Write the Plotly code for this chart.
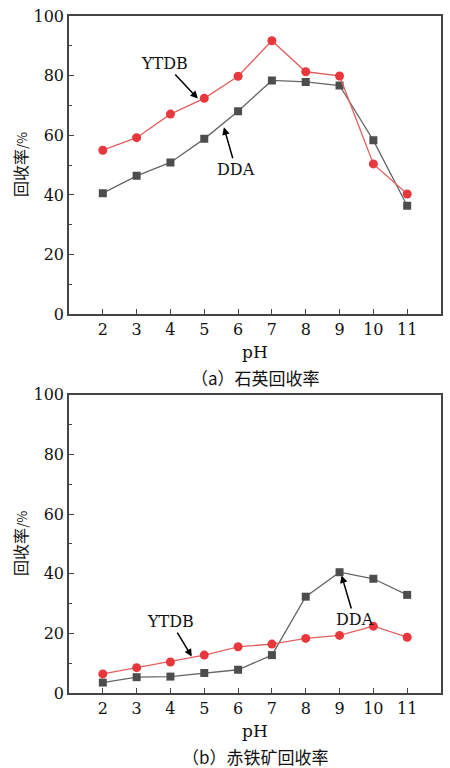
import plotly.graph_objects as go
from plotly.subplots import make_subplots

ph = [2, 3, 4, 5, 6, 7, 8, 9, 10, 11]
quartz_ytdb = [55.0, 59.2, 67.1, 72.4, 79.8, 91.7, 81.3, 79.9, 50.4, 40.3]
quartz_dda = [40.6, 46.4, 50.9, 58.8, 68.1, 78.4, 77.9, 76.7, 58.3, 36.4]
hematite_ytdb = [6.4, 8.5, 10.4, 12.7, 15.5, 16.4, 18.3, 19.3, 22.4, 18.7]
hematite_dda = [3.5, 5.3, 5.5, 6.7, 7.8, 12.7, 32.3, 40.5, 38.3, 32.9]
captions = ["（a）石英回收率", "（b）赤铁矿回收率"]
x_title = "pH"
y_title = "回收率/%"

SERIF = "DejaVu Serif"
CJK = "Noto Sans CJK SC"
RED = "#e8383d"
GRAY = "#4d4d4d"
AX = "#444444"

fig = make_subplots(rows=2, cols=1, vertical_spacing=81 / 681)

panels = [(quartz_ytdb, quartz_dda), (hematite_ytdb, hematite_dda)]
for i, (yt, dd) in enumerate(panels, start=1):
    fig.add_trace(go.Scatter(x=ph, y=dd, mode="lines+markers", name="DDA",
                             line=dict(color="#666666", width=1.3),
                             marker=dict(symbol="square", size=8, color=GRAY)),
                  row=i, col=1)
    fig.add_trace(go.Scatter(x=ph, y=yt, mode="lines+markers", name="YTDB",
                             line=dict(color="#e06060", width=1.3),
                             marker=dict(symbol="circle", size=9, color=RED)),
                  row=i, col=1)

axis_common = dict(showline=True, linecolor=AX, linewidth=1.5, mirror=True,
                   showgrid=False, zeroline=False, ticks="inside", ticklen=5,
                   tickcolor=AX, tickfont=dict(family=SERIF, size=16, color="#111"))
for i in (1, 2):
    fig.update_xaxes(range=[1, 12], tickvals=ph, row=i, col=1, **axis_common)
    fig.update_yaxes(range=[0, 100], dtick=20, row=i, col=1,
                     minor=dict(dtick=10, ticks="inside", ticklen=3, tickcolor=AX),
                     **axis_common)

annots = []
for i in (1, 2):
    xd = "x domain" if i == 1 else "x2 domain"
    yd = "y domain" if i == 1 else "y2 domain"
    annots.append(dict(text=x_title, xref=xd, yref=yd, x=0.5, y=0, yshift=-38,
                       yanchor="middle", showarrow=False,
                       font=dict(family=SERIF, size=17, color="#111")))
    annots.append(dict(text=captions[i - 1], xref=xd, yref=yd, x=0.5, y=0, yshift=-63,
                       yanchor="middle", showarrow=False,
                       font=dict(family=CJK, size=17, color="#111")))
    annots.append(dict(text=y_title.replace("/%", "<span style='font-size:13px'>/%</span>"),
                       xref=xd, yref=yd, x=0, y=0.5, xshift=-49, textangle=-90,
                       xanchor="center", showarrow=False,
                       font=dict(family=CJK, size=16, color="#111")))

arrow = dict(showarrow=True, arrowhead=2, arrowsize=1, arrowwidth=1.5,
             arrowcolor="black", font=dict(family=SERIF, size=16, color="#111"))
annots += [
    dict(text="YTDB", xref="x", yref="y", x=4.81, y=72.3, ax=-33, ay=-35, **arrow),
    dict(text="DDA", xref="x", yref="y", x=5.58, y=62.7, ax=12, ay=42, **arrow),
    dict(text="YTDB", xref="x2", yref="y2", x=4.63, y=12.2, ax=-21, ay=-35, **arrow),
    dict(text="DDA", xref="x2", yref="y2", x=9.06, y=39.4, ax=13, ay=44, **arrow),
]

fig.update_layout(width=450, height=768, showlegend=False,
                  margin=dict(l=69, r=7, t=12, b=75),
                  paper_bgcolor="white", plot_bgcolor="white",
                  annotations=annots)

fig.write_html("out.html", config={"displayModeBar": False},
               post_script="document.body.style.margin='0';")
